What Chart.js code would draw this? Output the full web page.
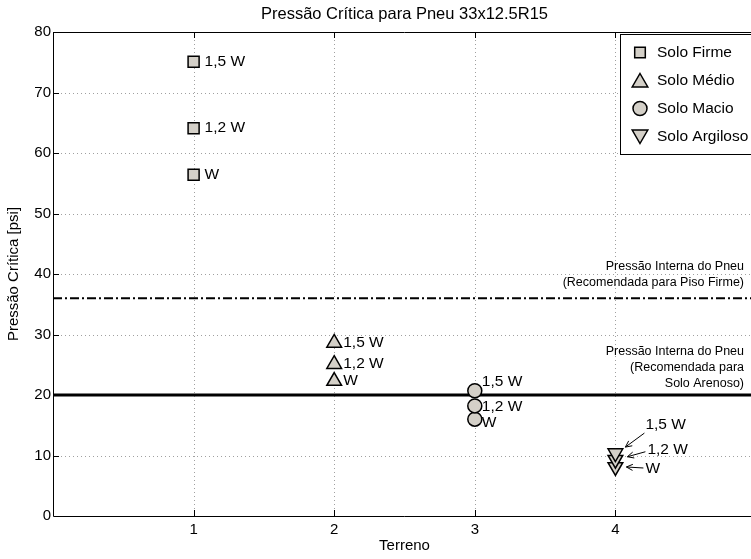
<!DOCTYPE html>
<html>
<head>
<meta charset="utf-8">
<title>Pressão Crítica</title>
<script src="https://cdn.jsdelivr.net/npm/chart.js@4.4.1/dist/chart.umd.min.js"></script>
<style>
  html, body { margin: 0; padding: 0; overflow: hidden; background: #fff; }
  canvas { display: block; }
</style>
</head>
<body>
<canvas id="chart" width="766" height="559"></canvas>
<script>
// Terreno (eixo x) e pressões críticas [psi] para cada carga
const terrenos = [1, 2, 3, 4];
const cargas = ['W', '1,2 W', '1,5 W'];
const soloFirme = [56.4, 64.1, 75.1];
const soloMedio = [22.3, 25.1, 28.6];
const soloMacio = [16.0, 18.2, 20.7];
const soloArgiloso = [8.1, 9.3, 10.4];

// Pressões internas recomendadas [psi]
const pressaoPisoFirme = 36;
const pressaoSoloArenoso = 20;

const xTicks = [1, 2, 3, 4];
const yTicks = [0, 10, 20, 30, 40, 50, 60, 70, 80];

const FONT = '"Liberation Sans", Arial, Helvetica, sans-serif';
const cinza = '#d4d0c8';

function serie(x, valores) {
    return valores.map(v => ({ x: x, y: v }));
}

// deslocamento (px) dos rótulos de carga em relação ao marcador
const rotulos = [
    { ds: 0, off: [[11, 0], [11, 0], [11, 0]] },
    { ds: 1, off: [[9, 0], [9, 0], [9, 0]] },
    { ds: 2, off: [[7, 4], [7, 1], [7, -9]] }
];
// rótulos com seta para o Solo Argiloso: [texto, início da seta, ponta da seta]
const setas = [
    [[30, 2], [28, 1], [11, 0]],
    [[32, -10], [30, -8], [12, -3]],
    [[30, -28], [29, -20], [10, -6]]
];

function marcador(ctx, estilo, x, y, r) {
    ctx.beginPath();
    if (estilo === 'rect') {
        const s = r * Math.SQRT1_2;
        ctx.rect(x - s, y - s, 2 * s, 2 * s);
    } else if (estilo === 'circle') {
        ctx.arc(x, y, r, 0, Math.PI * 2);
    } else {
        const d = estilo === 'down' ? -1 : 1;
        ctx.moveTo(x, y - d * r);
        ctx.lineTo(x + r * 0.866, y + d * r / 2);
        ctx.lineTo(x - r * 0.866, y + d * r / 2);
        ctx.closePath();
    }
    ctx.fillStyle = cinza;
    ctx.fill();
    ctx.lineWidth = 1.5;
    ctx.strokeStyle = '#000';
    ctx.stroke();
}

const extras = {
    id: 'extras',
    beforeDatasetsDraw(chart) {
        const { ctx, chartArea: a, scales: { x, y } } = chart;
        ctx.save();
        ctx.strokeStyle = '#a0a0a0';
        ctx.lineWidth = 1;
        ctx.setLineDash([1, 3]);
        ctx.beginPath();
        xTicks.forEach(v => {
            const px = Math.round(x.getPixelForValue(v)) + 0.5;
            ctx.moveTo(px, a.top); ctx.lineTo(px, a.bottom);
        });
        yTicks.slice(1, -1).forEach(v => {
            const py = Math.round(y.getPixelForValue(v)) + 0.5;
            ctx.moveTo(a.left, py); ctx.lineTo(a.right, py);
        });
        ctx.stroke();
        ctx.restore();
    },
    afterDatasetsDraw(chart) {
        const { ctx, chartArea: a, scales: { x, y } } = chart;
        ctx.save();

        // moldura e marcas de escala para dentro
        ctx.strokeStyle = '#000';
        ctx.lineWidth = 1;
        ctx.beginPath();
        ctx.moveTo(a.left + 0.5, a.top + 0.5);
        ctx.lineTo(a.left + 0.5, a.bottom + 0.5);
        ctx.lineTo(a.right, a.bottom + 0.5);
        ctx.moveTo(a.left, a.top + 0.5);
        ctx.lineTo(a.right, a.top + 0.5);
        xTicks.forEach(v => {
            const px = Math.round(x.getPixelForValue(v)) + 0.5;
            ctx.moveTo(px, a.bottom); ctx.lineTo(px, a.bottom - 6);
            ctx.moveTo(px, a.top); ctx.lineTo(px, a.top + 6);
        });
        yTicks.slice(1, -1).forEach(v => {
            const py = Math.round(y.getPixelForValue(v)) + 0.5;
            ctx.moveTo(a.left, py); ctx.lineTo(a.left + 6, py);
        });
        ctx.stroke();

        // rótulos de carga
        ctx.fillStyle = '#000';
        ctx.font = '15.5px ' + FONT;
        ctx.textAlign = 'left';
        ctx.textBaseline = 'middle';
        rotulos.forEach(r => {
            const pts = chart.getDatasetMeta(r.ds).data;
            pts.forEach((p, i) => {
                ctx.fillText(cargas[i], p.x + r.off[i][0], p.y + r.off[i][1]);
            });
        });

        // rótulos com seta (Solo Argiloso)
        const pts = chart.getDatasetMeta(3).data;
        ctx.lineWidth = 1;
        pts.forEach((p, i) => {
            const [t, s0, s1] = setas[i];
            ctx.fillText(cargas[i], p.x + t[0], p.y + t[1]);
            const x0 = p.x + s0[0], y0 = p.y + s0[1];
            const x1 = p.x + s1[0], y1 = p.y + s1[1];
            const ang = Math.atan2(y1 - y0, x1 - x0);
            ctx.beginPath();
            ctx.moveTo(x0, y0);
            ctx.lineTo(x1, y1);
            ctx.moveTo(x1 - 7 * Math.cos(ang - 0.45), y1 - 7 * Math.sin(ang - 0.45));
            ctx.lineTo(x1, y1);
            ctx.lineTo(x1 - 7 * Math.cos(ang + 0.45), y1 - 7 * Math.sin(ang + 0.45));
            ctx.stroke();
        });

        // textos das pressões recomendadas
        ctx.font = '12.5px ' + FONT;
        ctx.textAlign = 'right';
        const xr = 744;
        const y36 = y.getPixelForValue(pressaoPisoFirme);
        ctx.fillText('Pressão Interna do Pneu', xr, y36 - 32);
        ctx.fillText('(Recomendada para Piso Firme)', xr, y36 - 16);
        const y20 = y.getPixelForValue(pressaoSoloArenoso);
        ctx.fillText('Pressão Interna do Pneu', xr, y20 - 43);
        ctx.fillText('(Recomendada para', xr, y20 - 27);
        ctx.fillText('Solo Arenoso)', xr, y20 - 11);

        // legenda
        ctx.fillStyle = '#fff';
        ctx.fillRect(620, 34, 200, 120);
        ctx.strokeStyle = '#000';
        ctx.lineWidth = 1;
        ctx.strokeRect(620.5, 34.5, 200, 120);
        const itens = [['Solo Firme', 'rect', 7.5], ['Solo Médio', 'up', 9], ['Solo Macio', 'circle', 7], ['Solo Argiloso', 'down', 9]];
        itens.forEach((it, i) => {
            const yy = 52.5 + i * 28;
            marcador(ctx, it[1], 640, it[1] === 'up' ? yy + 2 : it[1] === 'down' ? yy - 2 : yy, it[2]);
            ctx.fillStyle = '#000';
            ctx.font = '15.5px ' + FONT;
            ctx.textAlign = 'left';
            ctx.fillText(it[0], 657, yy);
        });

        // título
        ctx.font = '16.5px ' + FONT;
        ctx.textAlign = 'center';
        ctx.fillText('Pressão Crítica para Pneu 33x12.5R15', (a.left + a.right) / 2, 14);
        ctx.restore();
    }
};

const marcadorBase = {
    backgroundColor: cinza,
    borderColor: '#000',
    borderWidth: 1.5,
    pointBackgroundColor: cinza,
    pointBorderColor: '#000',
    pointBorderWidth: 1.5
};

new Chart(document.getElementById('chart'), {
    type: 'scatter',
    data: {
        datasets: [
            { label: 'Solo Firme', data: serie(terrenos[0], soloFirme), pointStyle: 'rect', pointRadius: 7.8, ...marcadorBase },
            { label: 'Solo Médio', data: serie(terrenos[1], soloMedio), pointStyle: 'triangle', pointRadius: 8.5, ...marcadorBase },
            { label: 'Solo Macio', data: serie(terrenos[2], soloMacio), pointStyle: 'circle', pointRadius: 7, ...marcadorBase },
            { label: 'Solo Argiloso', data: serie(terrenos[3], soloArgiloso), pointStyle: 'triangle', rotation: 180, pointRadius: 8.5, ...marcadorBase },
            {
                label: 'Piso Firme', showLine: true, pointRadius: 0,
                data: [{ x: 0, y: pressaoPisoFirme }, { x: 5, y: pressaoPisoFirme }],
                borderColor: '#000', borderWidth: 2, borderDash: [9, 3, 2, 3]
            },
            {
                label: 'Solo Arenoso', showLine: true, pointRadius: 0,
                data: [{ x: 0, y: pressaoSoloArenoso }, { x: 5, y: pressaoSoloArenoso }],
                borderColor: '#000', borderWidth: 3
            }
        ]
    },
    options: {
        responsive: false,
        animation: false,
        events: [],
        devicePixelRatio: 1,
        layout: { padding: { top: 32, right: 2, left: 0, bottom: 0 } },
        plugins: {
            legend: { display: false },
            tooltip: { enabled: false },
            title: { display: false }
        },
        scales: {
            x: {
                type: 'linear', min: 0, max: 5,
                afterFit: s => { s.height = 43; },
                afterBuildTicks: s => { s.ticks = [0, 1, 2, 3, 4, 5].map(v => ({ value: v })); },
                ticks: {
                    color: '#000', padding: 5, font: { family: FONT, size: 15 },
                    callback: v => (xTicks.includes(v) ? String(v) : '')
                },
                grid: { display: false, drawTicks: false },
                border: { display: false },
                title: { display: true, text: 'Terreno', color: '#000', font: { family: FONT, size: 15 }, padding: { top: 0, bottom: 4 } }
            },
            y: {
                type: 'linear', min: 0, max: 80,
                afterFit: s => { s.width = 53; },
                afterBuildTicks: s => { s.ticks = yTicks.map(v => ({ value: v })); },
                ticks: { color: '#000', padding: 2, font: { family: FONT, size: 15 } },
                grid: { display: false, drawTicks: false },
                border: { display: false },
                title: { display: true, text: 'Pressão Crítica [psi]', color: '#000', font: { family: FONT, size: 15 }, padding: { top: 5, bottom: 0 } }
            }
        }
    },
    plugins: [extras]
});
</script>
</body>
</html>
